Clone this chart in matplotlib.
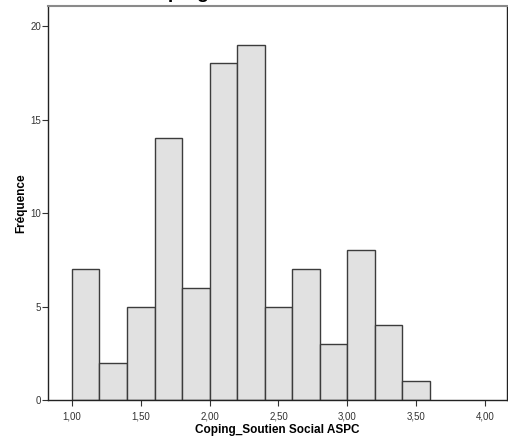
import matplotlib
matplotlib.use("Agg")
import matplotlib.pyplot as plt
import numpy as np

bin_edges = [1.0, 1.2, 1.4, 1.6, 1.8, 2.0, 2.2, 2.4, 2.6, 2.8, 3.0, 3.2, 3.4, 3.6]
counts = [7, 2, 5, 14, 6, 18, 19, 5, 7, 3, 8, 4, 1]
x_ticks = [1.0, 1.5, 2.0, 2.5, 3.0, 3.5, 4.0]
x_tick_labels = ["1,00", "1,50", "2,00", "2,50", "3,00", "3,50", "4,00"]
y_ticks = [0, 5, 10, 15, 20]
title = 'Coping_Soutien Social ASPC'

plt.rcParams['font.family'] = ['Liberation Sans', 'DejaVu Sans']

fig = plt.figure(figsize=(5.08, 4.45), dpi=100)
W, H = 508, 445
left, right, top, bottom = 48, 507, 6, 400
ax = fig.add_axes([left / W, 1 - bottom / H, (right - left) / W, (bottom - top) / H])

lefts = np.array(bin_edges[:-1])
widths = np.diff(bin_edges)
ax.bar(lefts, counts, width=widths, align='edge', color='#e1e1e1',
       edgecolor='#3c3c3c', linewidth=1.0)

ax.set_xlim(0.826, 4.16)
ax.set_ylim(0, 21.07)
ax.set_xticks(x_ticks)
ax.set_xticklabels(x_tick_labels)
ax.set_yticks(y_ticks)
ax.tick_params(axis='both', direction='out', length=4, width=0.8,
               labelsize=7, colors='#333333', pad=1)
ax.tick_params(axis='x', pad=4)

for s in ['left', 'bottom', 'right']:
    ax.spines[s].set_color('#222222')
    ax.spines[s].set_linewidth(1.0)
ax.spines['top'].set_color('#8a8a8a')
ax.spines['top'].set_linewidth(1.5)

ax.set_xlabel('Coping_Soutien Social ASPC', fontsize=8.5, fontweight='bold', labelpad=2)
ax.set_ylabel('Fréquence', fontsize=8.5, fontweight='bold', labelpad=2)

fig.text((left + right) / 2 / W, 1 + 2.5 / H, title, ha='center', va='baseline',
         fontsize=14, fontweight='bold')

fig.savefig('out.png', dpi=100)
